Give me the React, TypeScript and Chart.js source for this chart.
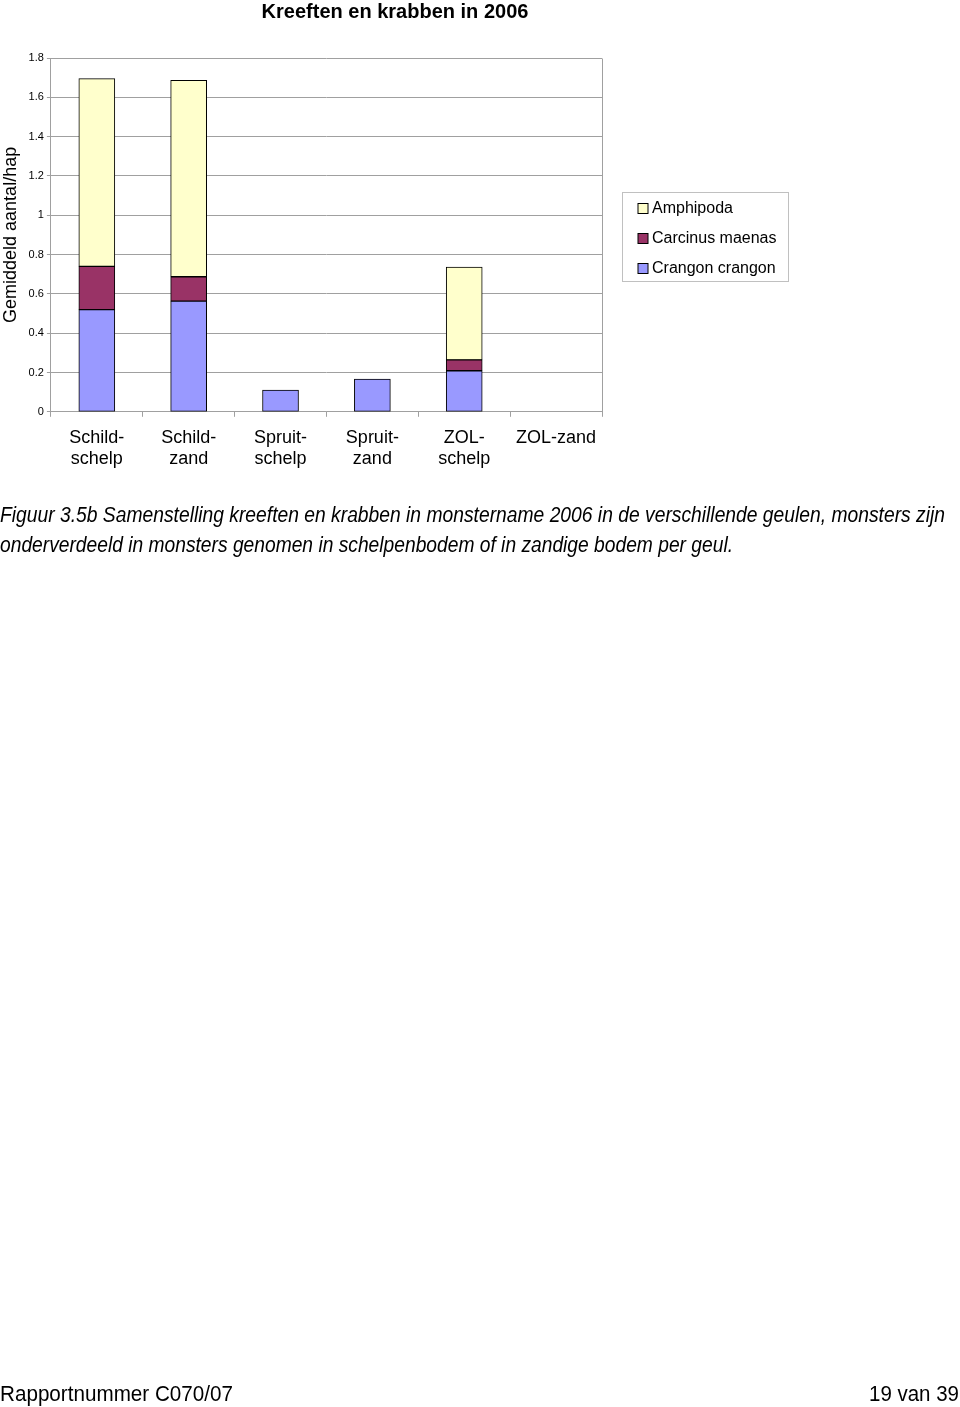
import React, { useEffect, useRef } from 'react';
import { Chart, registerables } from 'chart.js';

Chart.register(...registerables);

const TITLE = 'Kreeften en krabben in 2006';
const Y_TITLE = 'Gemiddeld aantal/hap';
const CATEGORIES: (string | string[])[] = [
  ['Schild-', 'schelp'],
  ['Schild-', 'zand'],
  ['Spruit-', 'schelp'],
  ['Spruit-', 'zand'],
  ['ZOL-', 'schelp'],
  'ZOL-zand',
];
const SERIES_NAMES = ['Crangon crangon', 'Carcinus maenas', 'Amphipoda'];
const SERIES_COLORS = ['#9999FF', '#993366', '#FFFFCC'];
const CRANGON = [0.52, 0.563, 0.111, 0.167, 0.209, 0];
const CARCINUS = [0.22, 0.124, 0, 0, 0.055, 0];
const AMPHIPODA = [0.955, 1.0, 0, 0, 0.472, 0];
const Y_TICKS = [0, 0.2, 0.4, 0.6, 0.8, 1, 1.2, 1.4, 1.6, 1.8];
const Y_TICK_LABELS = ['0', '0.2', '0.4', '0.6', '0.8', '1', '1.2', '1.4', '1.6', '1.8'];

const CAPTION_LINES = [
  'Figuur 3.5b Samenstelling kreeften en krabben in monstername 2006 in de verschillende geulen, monsters zijn',
  'onderverdeeld in monsters genomen in schelpenbodem of in zandige bodem per geul.',
];
const FOOTER_LEFT = 'Rapportnummer C070/07';
const FOOTER_RIGHT = '19 van 39';

const FONT = '"Liberation Sans", Arial, sans-serif';
const GRID = '#a0a0a0';

const framePlugin = {
  id: 'frame',
  afterDatasetsDraw(chart: any) {
    const { ctx, chartArea } = chart;
    ctx.save();
    ctx.strokeStyle = GRID;
    ctx.lineWidth = 1;
    ctx.beginPath();
    const r = Math.round(chartArea.right) + 0.5;
    ctx.moveTo(r, Math.round(chartArea.top) + 0.5);
    ctx.lineTo(r, Math.round(chartArea.bottom) + 0.5);
    ctx.stroke();
    ctx.restore();
  },
};

const boxLegendPlugin = {
  id: 'boxLegend',
  afterDraw(chart: any) {
    const { ctx, chartArea } = chart;
    const ds = chart.data.datasets.slice().reverse();
    const w = 166;
    const h = 89;
    const left = Math.round(chartArea.right + 20) + 0.5;
    const top = Math.round((chartArea.top + chartArea.bottom) / 2 - 42.5) + 0.5;
    ctx.save();
    ctx.strokeStyle = '#c0c0c0';
    ctx.lineWidth = 1;
    ctx.strokeRect(left, top, w, h);
    ctx.font = '16px ' + FONT;
    ctx.textBaseline = 'middle';
    ds.forEach((d: any, i: number) => {
      const cy = Math.round(top + 15 + i * 30);
      ctx.fillStyle = d.backgroundColor;
      ctx.fillRect(left + 15.5, cy - 5, 10, 10);
      ctx.strokeStyle = '#000';
      ctx.strokeRect(left + 15.5, cy - 4.5, 10, 10);
      ctx.fillStyle = '#000';
      ctx.fillText(d.label, left + 29.5, cy + 1);
    });
    ctx.restore();
  },
};

function BarChart() {
  const ref = useRef<HTMLCanvasElement | null>(null);
  useEffect(() => {
    if (!ref.current) return;
    const values = [CRANGON, CARCINUS, AMPHIPODA];
    const chart = new Chart(ref.current, {
      type: 'bar',
      data: {
        labels: CATEGORIES,
        datasets: SERIES_NAMES.map((name, i) => ({
          label: name,
          data: values[i],
          backgroundColor: SERIES_COLORS[i],
          borderColor: '#000000',
          borderWidth: 1,
          borderSkipped: false,
          barThickness: 36,
        })),
      },
      options: {
        animation: false,
        responsive: false,
        devicePixelRatio: 1,
        layout: { padding: { top: 0, right: 0, bottom: 0, left: 0 } },
        plugins: {
          legend: { display: false },
          tooltip: { enabled: false },
          title: {
            display: true,
            text: TITLE,
            color: '#000',
            font: { family: FONT, size: 20, weight: 'bold' },
            padding: { top: 0, bottom: 34 },
          },
        },
        scales: {
          x: {
            stacked: true,
            offset: true,
            grid: {
              display: true,
              drawOnChartArea: false,
              drawTicks: true,
              tickLength: 5,
              color: GRID,
              offset: true,
            },
            border: { display: true, color: GRID },
            ticks: {
              color: '#000',
              font: { family: FONT, size: 18 },
              padding: 10,
              maxRotation: 0,
              autoSkip: false,
            },
          },
          y: {
            stacked: true,
            min: 0,
            max: 1.8,
            afterBuildTicks: (axis: any) => {
              axis.ticks = Y_TICKS.map((v) => ({ value: v }));
            },
            grid: { color: GRID, drawTicks: true, tickLength: 4 },
            border: { display: true, color: GRID },
            ticks: {
              color: '#000',
              font: { family: FONT, size: 11 },
              padding: 3,
              callback: (_v: any, i: number) => Y_TICK_LABELS[i],
            },
            title: {
              display: true,
              text: Y_TITLE,
              color: '#000',
              font: { family: FONT, size: 18 },
              padding: { top: 0, bottom: 4 },
            },
          },
          legendSpace: {
            type: 'linear',
            position: 'right',
            display: true,
            grid: { display: false, drawTicks: false },
            border: { display: false },
            ticks: { display: false },
            afterFit: (scale: any) => {
              scale.width = 188;
            },
          },
        },
      },
      plugins: [framePlugin, boxLegendPlugin],
    } as any);
    return () => chart.destroy();
  }, []);
  return <canvas ref={ref} width={790} height={480} style={{ display: 'block' }} />;
}

export default function App() {
  return (
    <div
      style={{
        position: 'absolute',
        left: 0,
        top: 0,
        width: 960,
        height: 1407,
        background: '#fff',
        overflow: 'hidden',
      }}
    >
      <div style={{ position: 'absolute', left: 0, top: 0 }}>
        <BarChart />
      </div>
      <svg
        width={960}
        height={1407}
        style={{ position: 'absolute', left: 0, top: 0, pointerEvents: 'none' }}
      >
        <g fontFamily={FONT} fill="#000">
          <text x={0} y={522} fontSize={22} fontStyle="italic" textLength={945} lengthAdjust="spacingAndGlyphs">
            {CAPTION_LINES[0]}
          </text>
          <text x={0} y={552} fontSize={22} fontStyle="italic" textLength={733} lengthAdjust="spacingAndGlyphs">
            {CAPTION_LINES[1]}
          </text>
          <text x={0} y={1401} fontSize={22} textLength={233} lengthAdjust="spacingAndGlyphs">
            {FOOTER_LEFT}
          </text>
          <text x={869} y={1401} fontSize={22} textLength={90} lengthAdjust="spacingAndGlyphs">
            {FOOTER_RIGHT}
          </text>
        </g>
      </svg>
    </div>
  );
}
